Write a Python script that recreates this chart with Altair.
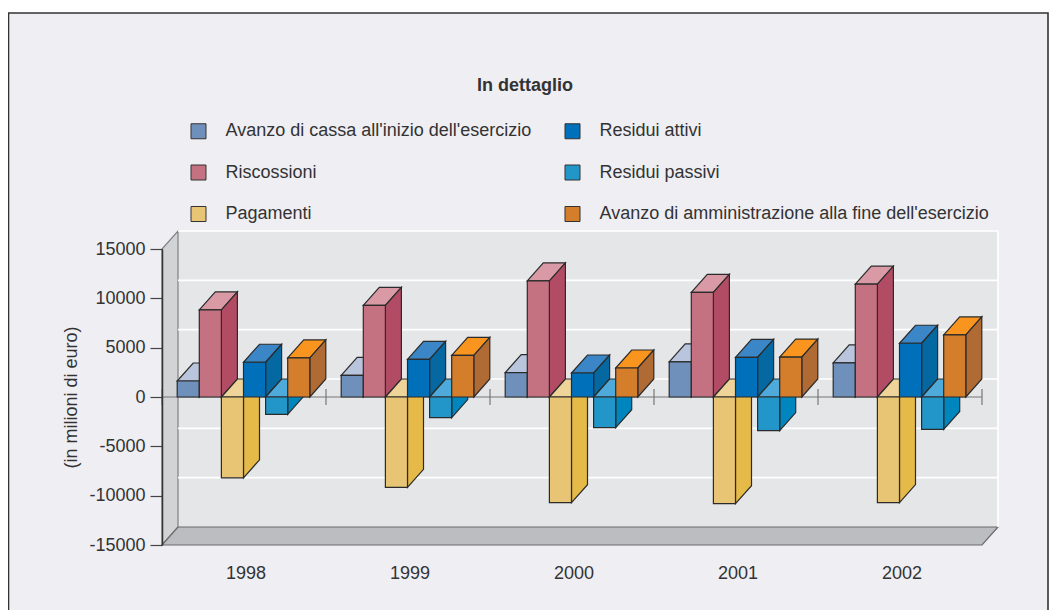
import altair as alt
import pandas as pd

years = [1998, 1999, 2000, 2001, 2002]
series = [
    "Avanzo di cassa all'inizio dell'esercizio",
    "Riscossioni",
    "Pagamenti",
    "Residui attivi",
    "Residui passivi",
    "Avanzo di amministrazione alla fine dell'esercizio",
]
avanzo_inizio = [1620, 2200, 2470, 3550, 3450]
riscossioni = [8830, 9290, 11760, 10610, 11430]
pagamenti = [-8190, -9160, -10710, -10810, -10700]
residui_attivi = [3520, 3820, 2430, 4020, 5450]
residui_passivi = [-1760, -2090, -3110, -3410, -3290]
avanzo_fine = [3960, 4220, 2940, 4050, 6290]
values = [avanzo_inizio, riscossioni, pagamenti, residui_attivi, residui_passivi, avanzo_fine]

front_colors = ["#7090bc", "#c47282", "#e8c475", "#0070bb", "#2296c9", "#d47d2b"]
top_colors = ["#b9c5dc", "#d99aa6", "#efd49a", "#3a86c6", "#4eaadb", "#f9941e"]
side_colors = ["#5d7aa8", "#b24c64", "#e6ba48", "#0568a0", "#0086bf", "#b06a33"]
y_ticks = [-15000, -10000, -5000, 0, 5000, 10000, 15000]

FONT = "Liberation Sans"
INK = "#333333"
FS = 18
X_MIN, X_MAX = 1997.5, 2002.5
Y_MIN, Y_MAX = -15000, 15000
W, H = 820, 296
DX = 16 * (X_MAX - X_MIN) / W      # depth in x units
DY = 18 * (Y_MAX - Y_MIN) / H      # depth in y units
BAR = 22.1 * (X_MAX - X_MIN) / W   # bar width
GAP = 15.2 * (X_MAX - X_MIN) / W   # cluster inset

rows = []
def poly(pid, key, pts):
    for x, y, y2 in pts:
        rows.append({"pid": pid, "key": key, "x": x, "y": y, "y2": y2})

pid = 0
for yi, yr in enumerate(years):
    left = yr - 0.5 + GAP
    for si, name in enumerate(series):
        v = values[si][yi]
        x0 = left + si * BAR
        x1 = x0 + BAR
        hi = max(v, 0)
        lo = min(v, 0)
        poly(pid, name + " top", [
            (x0, hi, hi),
            (x0 + DX, hi, hi + DY),
            (x1, hi, hi + DY),
            (x1 + DX, hi + DY, hi + DY),
        ])
        pid += 1
        poly(pid, name + " side", [
            (x1, lo, hi),
            (x1 + DX, lo + DY, hi + DY),
        ])
        pid += 1
        poly(pid, name, [(x0, lo, hi), (x1, lo, hi)])
        pid += 1
bars = pd.DataFrame(rows)

domain = []
rng = []
for i, name in enumerate(series):
    domain += [name, name + " top", name + " side"]
    rng += [front_colors[i], top_colors[i], side_colors[i]]

xs = alt.Scale(domain=[X_MIN, X_MAX], nice=False, zero=False)
ys = alt.Scale(domain=[Y_MIN, Y_MAX], nice=False, zero=False)
X = alt.X("x:Q", scale=xs, title=None, axis=alt.Axis(
    values=years, format="d", domain=False, ticks=False, grid=False, zindex=1,
    labelPadding=19, labelOffset=1.5, labelFontSize=FS, labelFont=FONT, labelColor=INK, labelOverlap=False))
Y = alt.Y("y:Q", scale=ys, stack=None, title="(in milioni di euro)", axis=alt.Axis(
    values=y_ticks, labelExpr="replace(format(datum.value, 'd'), '\u2212', '-')",
    grid=False, zindex=1, domainColor="#333333", domainWidth=1.5, tickColor="#444444", tickSize=12,
    tickWidth=1.2, labelPadding=5, labelFontSize=FS, labelFont=FONT, labelColor=INK,
    titleFontSize=FS, titleFont=FONT, titleColor=INK, titleFontWeight="normal", titleX=-82, titleY=148))

def face(pts, fill, stroke=None):
    df = pd.DataFrame(pts, columns=["x", "y", "y2"])
    kw = {"stroke": stroke, "strokeWidth": 1.2} if stroke else {}
    return alt.Chart(df).mark_area(fill=fill, orient="vertical", **kw).encode(x=X, y=Y, y2=alt.Y2("y2:Q"))

frame = alt.Chart(pd.DataFrame({"a": [0]})).mark_rect(fill="#eeeef3", stroke="#333333", strokeWidth=1.6).encode(
    x=alt.value(-153.5), x2=alt.value(886), y=alt.value(-236), y2=alt.value(400))

back_wall = face([(X_MIN + DX, Y_MIN + DY, Y_MAX + DY), (X_MAX + DX, Y_MIN + DY, Y_MAX + DY)], "#e5e6e8")
left_wall = face([(X_MIN, Y_MIN, Y_MAX), (X_MIN + DX, Y_MIN + DY, Y_MAX + DY)], "#d2d3d5", "#808080")
floor = face([
    (X_MIN, Y_MIN, Y_MIN),
    (X_MIN + DX, Y_MIN, Y_MIN + DY),
    (X_MAX, Y_MIN, Y_MIN + DY),
    (X_MAX + DX, Y_MIN + DY, Y_MIN + DY),
], "#bcbdc0", "#6a6a6a")

grid_df = pd.DataFrame({
    "y": [t + DY for t in y_ticks[1:]],
    "x": [X_MIN + DX] * 6,
    "x2": [X_MAX + DX] * 6,
})
grid = alt.Chart(grid_df).mark_rule(color="#ffffff", strokeWidth=1.6).encode(x=X, x2=alt.X2("x2:Q"), y=Y)
edge = alt.Chart(pd.DataFrame({"x": [X_MAX + DX], "y": [Y_MIN + DY], "y2": [Y_MAX + DY]})).mark_rule(
    color="#ffffff", strokeWidth=1.6).encode(x=X, y=Y, y2=alt.Y2("y2:Q"))

zero_line = alt.Chart(pd.DataFrame({"x": [X_MIN], "x2": [X_MAX], "y": [0]})).mark_rule(
    color="#777777", strokeWidth=1.2).encode(x=X, x2=alt.X2("x2:Q"), y=Y)
boundaries = [X_MIN + i for i in range(6)]
zero_ticks = alt.Chart(pd.DataFrame({"x": boundaries, "y": [-800] * 6, "y2": [800] * 6})).mark_rule(
    color="#777777", strokeWidth=1.2).encode(x=X, y=Y, y2=alt.Y2("y2:Q"))

bar_layer = alt.Chart(bars).mark_area(orient="vertical", stroke="#2b2b2b", strokeWidth=1.2, strokeJoin="miter", opacity=1).encode(
    x=X, y=Y, y2=alt.Y2("y2:Q"),
    detail="pid:N",
    color=alt.Color("key:N", scale=alt.Scale(domain=domain, range=rng), legend=alt.Legend(
        values=series, title=None, orient="none", legendX=27.5, legendY=-127, columns=2, direction="vertical",
        symbolType="square", symbolSize=225, symbolStrokeColor="#333333", symbolStrokeWidth=1, symbolOpacity=1,
        labelFontSize=FS, labelFont=FONT, labelColor=INK, labelLimit=500, labelOffset=18,
        rowPadding=21.5, columnPadding=31, gridAlign="each", padding=0)),
)

chart = alt.layer(frame, back_wall, left_wall, floor, grid, edge, zero_line, zero_ticks, bar_layer).properties(
    width=W, height=H,
    padding={"left": 154, "top": 241, "right": 67, "bottom": 65},
    autosize=alt.AutoSizeParams(type="none"),
    background="#ffffff",
    title=alt.TitleParams("In dettaglio", anchor="middle", fontSize=FS, font=FONT, fontWeight="bold", color=INK,
                          offset=-83, dx=-47),
).configure_view(stroke=None)

chart.save("out.html", embed_options={"renderer": "svg", "actions": False})
